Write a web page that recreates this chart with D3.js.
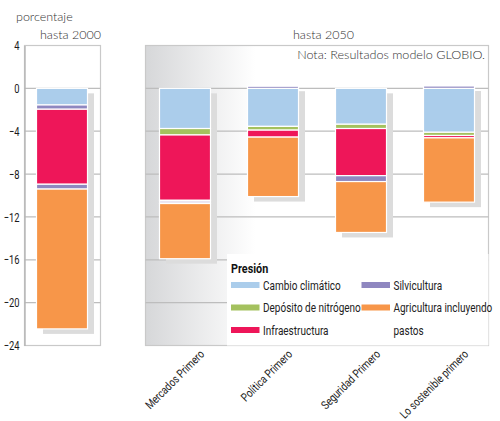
<!DOCTYPE html>
<html><head><meta charset="utf-8">
<script src="https://cdn.jsdelivr.net/npm/d3@7"></script>
<style>
body{margin:0;background:#fff;}
.cond{font-family:Roboto,'Liberation Sans','DejaVu Sans',sans-serif;}
.light{font-family:Lato,'Open Sans',sans-serif;font-weight:300;}
</style></head>
<body><svg id="c" width="500" height="421"></svg>
<script>
// ---- data ----
const bars = ["hasta 2000","Mercados Primero","Política Primero","Seguridad Primero","Lo sostenible primero"];
const scenarios = ["Mercados Primero","Política Primero","Seguridad Primero","Lo sostenible primero"];
const climate   = [-1.55, -3.75, -3.55, -3.35, -4.1];
const silvUpper = [-0.4, 0, 0.2, 0, 0.22];
const nitrogen  = [0, -0.6, -0.35, -0.4, -0.3];
const infra     = [-7.0, -6.1, -0.65, -4.4, -0.22];
const silvLower = [-0.45, 0, 0, -0.55, 0];
const faded     = [0, -0.3, 0, 0, 0];
const agri      = [-13.05, -5.15, -5.55, -4.75, -6.0];
const yTicks = [4,0,-4,-8,-12,-16,-20,-24];
const legendItems = [
  {label:"Cambio climático", color:"#abcdeb"},
  {label:"Depósito de nitrógeno", color:"#a4c15e"},
  {label:"Infraestructura", color:"#ee1659"},
  {label:"Silvicultura", color:"#8f87c0"},
  {label:["Agricultura incluyendo","pastos"], color:"#f79649"}
];
const seriesKeys = ["climate","silvUpper","nitrogen","infra","silvLower","faded","agri"];
const seriesColor = {climate:"#abcdeb",silvUpper:"#8f87c0",nitrogen:"#a4c15e",infra:"#ee1659",silvLower:"#8f87c0",faded:"#ebe5f1",agri:"#f79649"};
const seriesVals = {climate,silvUpper,nitrogen,infra,silvLower,faded,agri};

const table = bars.map((b,i)=>{const o={bar:b}; seriesKeys.forEach(k=>o[k]=seriesVals[k][i]); return o;});

const svg = d3.select("#c");
const y = d3.scaleLinear().domain([4,-24]).range([45.5,345.5]);
const xLeft = d3.scalePoint().domain(["hasta 2000"]).range([24,100]).padding(0.5);
const xRight = d3.scalePoint().domain(scenarios).range([185,449]);
const xPos = b => b==="hasta 2000" ? xLeft(b) : xRight(b);
const bw = 51;
const SX = 0.8; // condensed glyph scale

const defs = svg.append("defs");
const g1 = defs.append("linearGradient").attr("id","pg").attr("x1","0").attr("x2","1").attr("y1","0").attr("y2","0");
g1.append("stop").attr("offset","0").attr("stop-color","#d6d7d9");
g1.append("stop").attr("offset","0.32").attr("stop-color","#ffffff");

const L = {x0:24.5, x1:100.5};
const R = {x0:145.5, x1:488.5};
svg.append("rect").attr("x",L.x0).attr("y",y(4)).attr("width",L.x1-L.x0).attr("height",y(-24)-y(4))
  .attr("fill","#fff").attr("stroke","#c9c9c9").attr("stroke-width",1.2);
svg.append("rect").attr("x",R.x0).attr("y",y(4)).attr("width",R.x1-R.x0).attr("height",y(-24)-y(4))
  .attr("fill","url(#pg)").attr("stroke","#c9c9c9").attr("stroke-width",1.2);

[[L.x0,L.x1],[R.x0,R.x1]].forEach(([a,b])=>{
  svg.append("g").selectAll("line").data(yTicks.filter(t=>t!==4 && t!==-24)).join("line")
    .attr("x1",a).attr("x2",b).attr("y1",d=>y(d)).attr("y2",d=>y(d))
    .attr("stroke","#bdbdbd").attr("stroke-width",1.3);
});

// y axis
const yAxis = d3.axisLeft(y).tickValues(yTicks).tickSize(0).tickPadding(4)
  .tickFormat(d=>d<0?"\u2212"+Math.abs(d):d);
const ya = svg.append("g").attr("transform",`translate(${L.x0},0)`).call(yAxis);
ya.select(".domain").attr("stroke","#b5b5b5").attr("stroke-width",1.4);
ya.selectAll(".tick text").attr("class","cond").attr("font-size",13).attr("fill","#1a1a1a")
  .attr("x",0).attr("transform","translate(-5,0) scale(0.72,1)");

const stack = d3.stack().keys(seriesKeys).offset(d3.stackOffsetDiverging);
const stacked = stack(table);

const extents = table.map((d,i)=>{
  let top=0,bot=0;
  stacked.forEach(s=>{top=Math.max(top,s[i][1],s[i][0]);bot=Math.min(bot,s[i][0],s[i][1]);});
  return {bar:d.bar,top,bot};
});
svg.append("g").selectAll("rect").data(extents).join("rect")
  .attr("x",d=>xPos(d.bar)-bw/2+6.5).attr("y",d=>y(d.top)+5)
  .attr("width",bw).attr("height",d=>y(d.bot)-y(d.top))
  .attr("fill","#dcdcdc");

svg.append("g").selectAll("g").data(stacked).join("g")
  .attr("fill",s=>seriesColor[s.key])
  .selectAll("rect").data(s=>s.filter(p=>p[1]!==p[0])).join("rect")
  .attr("x",p=>xPos(p.data.bar)-bw/2)
  .attr("y",p=>y(Math.max(p[0],p[1])))
  .attr("width",bw)
  .attr("height",p=>Math.abs(y(p[0])-y(p[1])))
  .attr("stroke","#fff").attr("stroke-width",1.2);

svg.append("text").attr("class","light").attr("x",16).attr("y",21).attr("font-size",12.5).attr("fill","#333").text("porcentaje");
svg.append("text").attr("class","light").attr("x",40).attr("y",38.5).attr("font-size",12.5).attr("fill","#333").text("hasta 2000");
svg.append("text").attr("class","light").attr("x",293).attr("y",38.5).attr("font-size",12.5).attr("fill","#333").text("hasta 2050");
svg.append("text").attr("class","light").attr("x",485).attr("y",59).attr("text-anchor","end").attr("font-size",12.6).attr("fill","#333").text("Nota: Resultados modelo GLOBIO.");

// legend
const condText = (sel, x, yy, size, txt) => sel.append("text").attr("class","cond")
  .attr("transform",`translate(${x},${yy}) scale(${SX},1)`).attr("font-size",size).attr("fill","#222").text(txt);
const lg = svg.append("g");
lg.append("rect").attr("x",227).attr("y",254).attr("width",R.x1-227).attr("height",y(-24)-254).attr("fill","#fff");
condText(lg,231,273,13.5,"Presión").attr("font-weight","bold").attr("fill","#111");
const pos = [[231,285],[231,307.5],[231,330],[361.5,285],[361.5,307.5]];
legendItems.forEach((it,i)=>{
  const [lx,ly]=pos[i];
  lg.append("rect").attr("x",lx).attr("y",ly-3).attr("width",28.5).attr("height",6).attr("fill",it.color);
  const lines = Array.isArray(it.label)?it.label:[it.label];
  lines.forEach((ln,j)=>condText(lg,lx+32,ly+4.5+j*22.5,12.5,ln));
});

// x labels
svg.append("g").selectAll("text").data(scenarios).join("text")
  .attr("class","cond").attr("font-size",11.8).attr("fill","#222").attr("text-anchor","end")
  .attr("transform",d=>`translate(${xRight(d)+20},${355}) rotate(-45) scale(${SX},1)`)
  .text(d=>d);
</script></body></html>
